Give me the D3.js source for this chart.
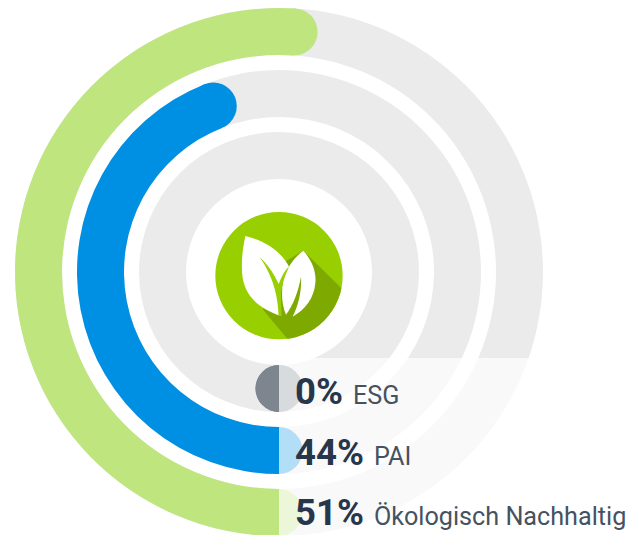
<!DOCTYPE html>
<html>
<head>
<meta charset="utf-8">
<script src="https://cdn.jsdelivr.net/npm/d3@7"></script>
<style>
html, body { margin: 0; padding: 0; background: #fff; overflow: hidden; }
text { font-family: Roboto, sans-serif; }
</style>
</head>
<body>
<div id="chart"></div>
<script>
// outermost ring first
var categories = ['Ökologisch Nachhaltig', 'PAI', 'ESG'];
var values = [51, 44, 0];
var colors = ['#bfe57f', '#0090e3', '#7d868f'];

var width = 633, height = 535;
var cx = 279, cy = 272;

var svg = d3.select('#chart').append('svg')
    .attr('width', width)
    .attr('height', height);

var angle = d3.scaleLinear().domain([0, 100]).range([Math.PI, 3 * Math.PI]);
var radius = d3.scaleBand().domain(categories).range([264, 93]).paddingInner(0.242);
var legendY = d3.scalePoint().domain(categories).range([525, 404]);

var g = svg.append('g').attr('transform', 'translate(' + cx + ',' + cy + ')');

var arc = d3.arc()
    .innerRadius(function(d) { return radius(d); })
    .outerRadius(function(d) { return radius(d) + radius.bandwidth(); });

function mid(d) { return radius(d) + radius.bandwidth() / 2; }

// background tracks
g.selectAll('.track')
    .data(categories).enter().append('path')
    .attr('class', 'track')
    .attr('fill', '#ebebeb')
    .attr('d', function(d) {
        return arc.startAngle(0).endAngle(2 * Math.PI)(d);
    });

// value arcs
g.selectAll('.value')
    .data(categories).enter().append('path')
    .attr('class', 'value')
    .attr('fill', function(d, i) { return colors[i]; })
    .attr('d', function(d, i) {
        return arc.startAngle(angle(0)).endAngle(angle(values[i]))(d);
    });

// round caps at both ends of each arc
[0, 1].forEach(function(end) {
    g.selectAll('.cap' + end)
        .data(categories).enter().append('circle')
        .attr('class', 'cap' + end)
        .attr('fill', function(d, i) { return colors[i]; })
        .attr('r', radius.bandwidth() / 2)
        .attr('transform', function(d, i) {
            var p = d3.pointRadial(angle(end ? values[i] : 0), mid(d));
            return 'translate(' + p + ')';
        });
});

// translucent panel behind the legend
svg.append('rect')
    .attr('x', cx).attr('y', 358)
    .attr('width', width - cx).attr('height', height - 358)
    .attr('fill', '#fff').attr('fill-opacity', 0.7);

// legend
var legend = svg.selectAll('.legend')
    .data(categories).enter().append('text')
    .attr('class', 'legend')
    .attr('x', 295)
    .attr('y', function(d) { return legendY(d); });

legend.append('tspan')
    .attr('font-size', 36.5).attr('font-weight', 700).attr('fill', '#27364a')
    .text(function(d, i) { return values[i] + '%'; });
legend.append('tspan')
    .attr('dx', 10)
    .attr('font-size', 25.2).attr('fill', '#46525f')
    .text(function(d) { return d; });

// leaf icon, drawn in a 3x grid
svg.append('clipPath').attr('id', 'badge')
    .append('circle').attr('cx', 237).attr('cy', 197).attr('r', 191);

var icon = svg.append('g').attr('transform', 'translate(200,210) scale(0.3333)');
icon.append('circle').attr('cx', 237).attr('cy', 197).attr('r', 191).attr('fill', '#97cf00');
icon.append('path').attr('clip-path', 'url(#badge)').attr('fill', '#7ea900')
    .attr('d', 'M310,122L460,270L290,420L190,300L180,200Z');
icon.append('path').attr('fill', '#fff')
    .attr('d', 'M136,78C195,92 245,125 268,172C245,195 240,225 243,318C190,300 140,270 128,205C122,160 128,115 136,78Z');
icon.append('path').attr('fill', '#fff')
    .attr('d', 'M310,122C335,150 350,185 346,220C342,265 315,300 278,320C298,280 305,240 303,200C295,245 280,285 258,314C245,285 243,245 250,210C262,170 285,140 310,122Z');
icon.append('path').attr('fill', '#97cf00')
    .attr('d', 'M178,140C205,165 225,195 236,222C245,198 255,180 268,168C255,195 245,225 243,255C243,280 245,300 245,318L236,318C234,270 225,205 178,140Z');
</script>
</body>
</html>
